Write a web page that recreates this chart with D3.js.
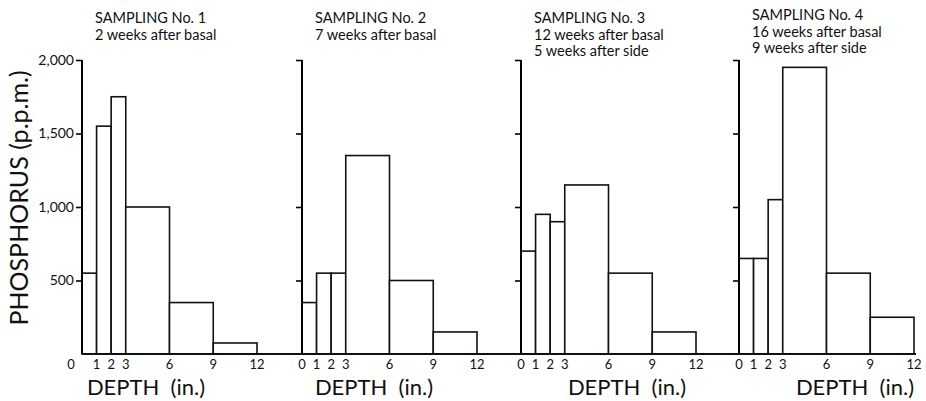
<!DOCTYPE html>
<html lang="en">
<head>
<meta charset="UTF-8">
<title>Phosphorus by depth</title>
<script src="https://d3js.org/d3.v7.min.js"></script>
<style>
  body { margin: 0; background: #fff; }
  text { font-family: Lato, "Open Sans", sans-serif; fill: #111; }
</style>
</head>
<body>
<svg width="926" height="401"></svg>
<script>
// depth layer edges (inches) and tick labels
var depthEdges = [0, 1, 2, 3, 6, 9, 12];
var depthTicks = [0, 1, 2, 3, 6, 9, 12];
var yTicks = [500, 1000, 1500, 2000];

// phosphorus (p.p.m.) per layer, one array per sampling
var sampling1 = [550, 1550, 1750, 1000, 350, 75];
var sampling2 = [350, 550, 550, 1350, 500, 150];
var sampling3 = [700, 950, 900, 1150, 550, 150];
var sampling4 = [650, 650, 1050, 1950, 550, 250];

var titles1 = ["SAMPLING No. 1", "2 weeks after basal"];
var titles2 = ["SAMPLING No. 2", "7 weeks after basal"];
var titles3 = ["SAMPLING No. 3", "12 weeks after basal", "5 weeks after side"];
var titles4 = ["SAMPLING No. 4", "16 weeks after basal", "9 weeks after side"];

var panels = [
  {values: sampling1, titles: titles1, left: 82},
  {values: sampling2, titles: titles2, left: 302},
  {values: sampling3, titles: titles3, left: 521},
  {values: sampling4, titles: titles4, left: 739}
];

var svg = d3.select("svg"),
    panelWidth = 175,
    y = d3.scaleLinear().domain([0, 2000]).range([354, 60]);

panels.forEach(function(p, i) {
  var x = d3.scaleLinear().domain([0, 12]).range([p.left, p.left + panelWidth]);
  p.x = x;
  var g = svg.append("g");

  // bars
  var layers = p.values.map(function(v, k) {
    return {x0: depthEdges[k], x1: depthEdges[k + 1], v: v};
  });
  g.selectAll("rect").data(layers).enter().append("rect")
    .attr("x", function(d) { return x(d.x0); })
    .attr("y", function(d) { return y(d.v); })
    .attr("width", function(d) { return x(d.x1) - x(d.x0); })
    .attr("height", function(d) { return y(0) - y(d.v); })
    .attr("fill", "#fff")
    .attr("stroke", "#111")
    .attr("stroke-width", 1.6);

  // y axis
  var ax = d3.axisLeft(y).tickValues(yTicks).tickSize(6).tickPadding(2)
    .tickFormat(i === 0 ? d3.format(",") : "");
  var axg = g.append("g")
    .attr("transform", "translate(" + x(0) + ",0)")
    .call(ax);
  axg.select(".domain").attr("d", "M0," + y(0) + "V" + y(2000)).attr("stroke-width", 2);
  axg.selectAll(".tick line").attr("stroke-width", 1.6);
  axg.selectAll("text").style("font-size", "14px").style("font-family", "Lato, sans-serif");

  // x tick labels (no tick marks)
  g.selectAll(".xt").data(depthTicks).enter().append("text")
    .attr("x", function(d) { return x(d) + (i === 0 && d === 0 ? -11 : 0); })
    .attr("y", 369)
    .attr("text-anchor", "middle")
    .style("font-size", "13px")
    .text(function(d) { return d; });

  // titles
  g.selectAll(".tt").data(p.titles).enter().append("text")
    .attr("x", x(0) + 13)
    .attr("y", function(d, k) { return 23 + k * 16.5 - (i === 3 ? 3 : 0); })
    .style("font-size", "14.5px")
    .text(function(d) { return d; });
});

// x axis titles
var depthLabelX = [146, 374, 627, 855];
depthLabelX.forEach(function(cx) {
  svg.append("text")
    .attr("x", cx).attr("y", 395)
    .attr("text-anchor", "middle")
    .style("font-size", "22px")
    .attr("xml:space", "preserve")
    .text("DEPTH  (in.)");
});

// shared baseline across all panels
svg.append("line")
  .attr("x1", panels[0].x(0)).attr("x2", panels[3].x(12) + 2)
  .attr("y1", y(0)).attr("y2", y(0))
  .attr("stroke", "#111").attr("stroke-width", 2);

// y axis title
svg.append("text")
  .attr("transform", "translate(28," + 198 + ") rotate(-90)")
  .attr("text-anchor", "middle")
  .style("font-size", "25px")
  .text("PHOSPHORUS (p.p.m.)");
</script>
</body>
</html>
